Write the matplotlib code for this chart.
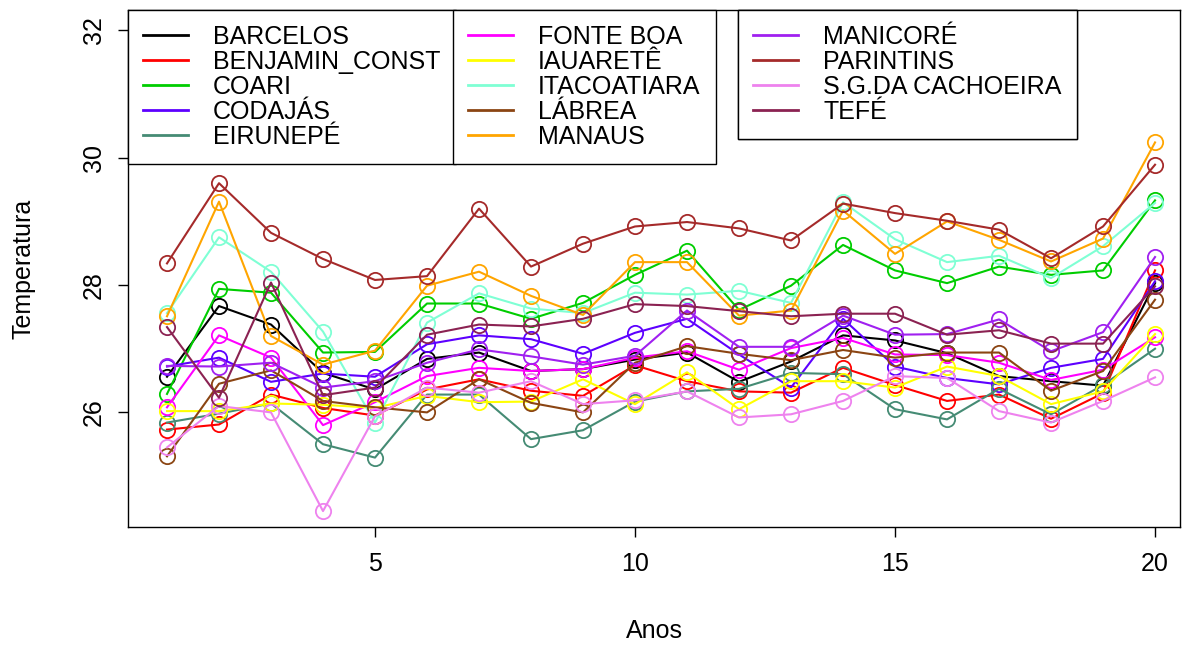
import matplotlib
matplotlib.use('Agg')
import matplotlib.pyplot as plt

plt.rcParams['font.family'] = ['Liberation Sans', 'DejaVu Sans']

anos = list(range(1, 21))

barcelos = [26.56, 27.67, 27.38, 26.62, 26.36, 26.84, 26.94, 26.65, 26.68, 26.83,
            26.94, 26.48, 26.80, 27.21, 27.13, 26.93, 26.57, 26.49, 26.42, 28.03]
benjamin_const = [25.73, 25.81, 26.28, 26.07, 25.95, 26.36, 26.52, 26.34, 26.26, 26.74,
                  26.49, 26.33, 26.31, 26.70, 26.43, 26.18, 26.28, 25.90, 26.30, 28.23]
coari = [26.29, 27.94, 27.88, 26.94, 26.95, 27.71, 27.71, 27.47, 27.72, 28.16,
         28.54, 27.61, 27.99, 28.63, 28.23, 28.03, 28.29, 28.16, 28.23, 29.33]
codajas = [26.72, 26.86, 26.48, 26.61, 26.56, 27.07, 27.21, 27.15, 26.92, 27.25,
           27.47, 26.91, 26.39, 27.47, 26.72, 26.54, 26.44, 26.70, 26.84, 28.06]
eirunepe = [25.84, 25.98, 26.14, 25.50, 25.29, 26.28, 26.28, 25.58, 25.72, 26.17,
            26.33, 26.37, 26.62, 26.60, 26.05, 25.89, 26.37, 25.97, 26.43, 27.00]
fonte_boa = [26.08, 27.21, 26.86, 25.80, 26.16, 26.57, 26.70, 26.65, 26.68, 26.86,
             26.96, 26.67, 27.01, 27.17, 26.91, 26.90, 26.78, 26.51, 26.67, 27.18]
iauarete = [26.02, 26.02, 26.14, 26.12, 26.07, 26.26, 26.16, 26.17, 26.52, 26.13,
            26.63, 26.05, 26.49, 26.49, 26.39, 26.72, 26.57, 26.13, 26.33, 27.23]
itacoatiara = [27.56, 28.75, 28.21, 27.27, 25.84, 27.41, 27.87, 27.63, 27.56, 27.88,
               27.85, 27.91, 27.72, 29.30, 28.72, 28.36, 28.46, 28.11, 28.61, 29.29]
labrea = [25.31, 26.45, 26.66, 26.18, 26.08, 26.00, 26.52, 26.15, 26.00, 26.78,
          27.04, 26.92, 26.82, 26.98, 26.86, 26.94, 26.94, 26.34, 26.65, 27.77]
manaus = [27.51, 29.31, 27.20, 26.75, 26.97, 27.99, 28.21, 27.83, 27.53, 28.36,
          28.36, 27.52, 27.60, 29.17, 28.49, 29.00, 28.71, 28.37, 28.73, 30.24]
manicore = [26.73, 26.72, 26.78, 26.39, 26.49, 26.78, 26.99, 26.88, 26.75, 26.89,
            27.60, 27.03, 27.03, 27.52, 27.22, 27.23, 27.46, 26.96, 27.26, 28.44]
parintins = [28.34, 29.60, 28.82, 28.41, 28.08, 28.14, 29.20, 28.29, 28.65, 28.92,
             28.99, 28.89, 28.70, 29.28, 29.13, 29.01, 28.87, 28.42, 28.92, 29.89]
sg_cachoeira = [25.45, 26.10, 26.00, 24.45, 25.94, 26.39, 26.31, 26.49, 26.13, 26.19,
                26.33, 25.92, 25.97, 26.18, 26.57, 26.54, 26.02, 25.84, 26.18, 26.55]
tefe = [27.34, 26.23, 28.04, 26.27, 26.39, 27.22, 27.38, 27.35, 27.47, 27.70,
        27.67, 27.59, 27.51, 27.55, 27.55, 27.22, 27.29, 27.08, 27.08, 27.98]

nomes = ['BARCELOS', 'BENJAMIN_CONST', 'COARI', 'CODAJÁS', 'EIRUNEPÉ',
         'FONTE BOA', 'IAUARETÊ', 'ITACOATIARA', 'LÁBREA', 'MANAUS',
         'MANICORÉ', 'PARINTINS', 'S.G.DA CACHOEIRA', 'TEFÉ']
series = [barcelos, benjamin_const, coari, codajas, eirunepe,
          fonte_boa, iauarete, itacoatiara, labrea, manaus,
          manicore, parintins, sg_cachoeira, tefe]
cores = ['black', '#FF0000', '#00CD00', '#5D00FF', '#458B74',
         '#FF00FF', '#FFFF00', '#7FFFD4', '#8B4513', '#FFA500',
         '#A020F0', '#A52A2A', '#EE82EE', '#8B2252']

fig = plt.figure(figsize=(11.94, 6.46), dpi=100)
ax = fig.add_axes([128 / 1194, 1 - 527 / 646, 1052 / 1194, 517 / 646])

linhas = []
for nome, valores, cor in zip(nomes, series, cores):
    l, = ax.plot(anos, valores, color=cor, linewidth=1.5, marker='o', markersize=11,
                 markerfacecolor='none', markeredgewidth=1.3, label=nome)
    linhas.append(l)

ax.set_xlim(0.25, 20.48)
ax.set_ylim(24.2, 32.32)
ax.set_xticks([5, 10, 15, 20])
ax.set_yticks([26, 28, 30, 32])
ax.tick_params(axis='both', labelsize=18, length=7, width=1)
ax.tick_params(axis='x', pad=11)
ax.tick_params(axis='y', pad=9)
for lab in ax.get_yticklabels():
    lab.set_rotation(90)
    lab.set_va('center')
ax.set_xlabel('Anos', fontsize=18, labelpad=31)
ax.set_ylabel('Temperatura', fontsize=18, labelpad=33)
for s in ax.spines.values():
    s.set_linewidth(1)

grupos = [(0, 5, 0.0), (5, 10, 0.309), (10, 14, 0.58)]
for ini, fim, xpos in grupos:
    leg = ax.legend(handles=[linhas[i] for i in range(ini, fim)], loc='upper left',
                    bbox_to_anchor=(xpos, 1.0), borderaxespad=0, fontsize=18,
                    frameon=True, fancybox=False, framealpha=1, edgecolor='black',
                    handlelength=1.8, handletextpad=1.0, labelspacing=0.04,
                    borderpad=0.6)
    leg.get_frame().set_linewidth(1)
    for h in leg.legend_handles:
        h.set_marker('')
        h.set_linewidth(2)
    ax.add_artist(leg)

fig.savefig('out.png', dpi=100)
